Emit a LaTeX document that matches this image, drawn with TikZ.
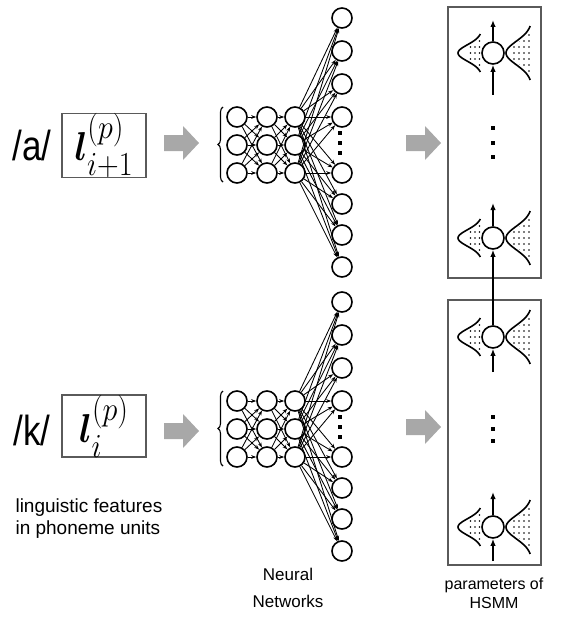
\documentclass[tikz,border=0pt]{standalone}
\usepackage{amsmath,bm}
\usepackage{fontspec}
\setmainfont{Liberation Sans}
\usetikzlibrary{arrows.meta,decorations.pathreplacing}

\definecolor{arrowgray}{HTML}{A8A8A8}
\definecolor{framegray}{HTML}{5A5A5A}

% feed-forward network: #1 name prefix, #2 vertical offset
\newcommand\nnet[2]{%
  \foreach \c/\x in {1/237,2/267,3/295} {
    \foreach \r/\y in {1/117,2/145,3/173} {
      \node[nnode] (#1c\c r\r) at (\x,\y+#2) {};
    }
  }
  \foreach \o/\y in {1/18,2/51,3/84,4/117,5/173,6/204,7/235,8/267} {
    \node[nnode] (#1o\o) at (342,\y+#2) {};
  }
  \foreach \a/\b in {1/2,2/3} {
    \foreach \i in {1,2,3} {
      \foreach \j in {1,2,3} {
        \draw[nlink] (#1c\a r\i) -- (#1c\b r\j);
      }
    }
  }
  \foreach \i in {1,2,3} {
    \foreach \o in {1,...,8} {
      \draw[nlink] (#1c3r\i) -- (#1o\o);
    }
  }
  \foreach \d in {133,143,153} {
    \fill (340,\d+#2) ++(-1.6,-1.6) rectangle ++(3.2,3.2);
  }
  \draw[decorate,decoration={brace,amplitude=5pt},line width=1.1pt]
    (223,182+#2) -- (223,107+#2);
}

% sideways Gaussian: #1 centre y, #2 peak x, #3 base x, #4 half height, #5 dot columns
\newcommand\gauss[5]{%
  \draw[gcurve] plot[domain=-#4:#4,samples=41,variable=\t]
    ({#3-(#3-#2)*exp(-(\t/(#4/2.3))^2/2)},{#1+\t});
  \begin{scope}
    \clip (#2,#1-#4) rectangle (#3-1.5,#1+#4);
    \clip plot[domain=-#4:#4,samples=41,variable=\t]
      ({#3-(#3-#2)*exp(-(\t/(#4/2.3))^2/2)+3.5},{#1+\t}) -- (#3+10,#1+#4) -- (#3+10,#1-#4) -- cycle;
    \foreach \dx in {#5} {
      \foreach \dy in {-24,-18,...,24} {
        \fill (\dx,#1+\dy) circle (0.9);
      }
    }
  \end{scope}
}

% HSMM state with its two output distributions: #1 name, #2 centre y
\newcommand\hstate[2]{%
  \node[hsnode] (#1) at (493,#2) {};
  \gauss{#2}{458}{482}{19}{470.5,475,479.5}
  \gauss{#2}{506}{532}{27}{514,519,524,529}
}

% grey block arrow: #1 left x, #2 centre y
\newcommand\blockarrow[2]{%
  \fill[arrowgray] (#1,#2-8) -- ++(19,0) -- ++(0,-9) -- ++(16,17)
    -- ++(-16,17) -- ++(0,-9) -- ++(-19,0) -- cycle;
}

\begin{document}
\begin{tikzpicture}[x=1pt,y=-1pt,
  nnode/.style={circle,draw,line width=1.6pt,minimum size=20pt,inner sep=0pt},
  nlink/.style={-{Stealth[length=5pt,width=3.6pt]},line width=0.85pt},
  hsnode/.style={circle,draw,line width=1.6pt,minimum size=22pt,inner sep=0pt},
  hsflow/.style={-{Latex[length=7pt,width=5.5pt]},line width=1.6pt},
  gcurve/.style={line width=1.6pt},
  boxframe/.style={draw=framegray,line width=1.2pt},
  captiontext/.style={font=\fontsize{17}{27}\selectfont,align=center},
  phone/.style={font=\fontsize{35}{40}\selectfont}
]
\useasboundingbox (0,0) rectangle (566,623);

% input features
\node[phone] (pa) at (32,145) {\scalebox{1}[1.2]{/a/}};
\node[phone] (pk) at (32,430) {\scalebox{1}[1.2]{/k/}};
\node[boxframe,minimum width=84pt,minimum height=63pt,inner sep=0pt] (fa) at (104,145.5)
  {\scalebox{1.45}[1.62]{\Huge $\bm{l}^{(p)}_{i+1}$}};
\node[boxframe,minimum width=84pt,minimum height=62pt,inner sep=0pt] (fk) at (104,426)
  {\scalebox{1.45}[1.62]{\Huge $\bm{l}^{(p)}_{i}$}};
\node[font=\fontsize{19}{22}\selectfont,align=left,anchor=west] (ling) at (12,519)
  {linguistic features\\in phoneme units};

\blockarrow{164}{143}
\blockarrow{164}{431}

% networks
\nnet{t}{0}
\nnet{b}{284}
\node[captiontext] (nnlab) at (288,588) {Neural\\Networks};

\blockarrow{406}{143}
\blockarrow{406}{427}

% HSMM parameters
\draw[boxframe] (448,7) rectangle (541,278);
\draw[boxframe] (448,300) rectangle (541,565);

\hstate{sa1}{53}
\hstate{sa2}{238}
\hstate{sb1}{337}
\hstate{sb2}{527}

\coordinate (sa1out) at (493,20);
\coordinate (sa1in) at (493,95);
\coordinate (sa2out) at (493,203);
\coordinate (sb1in) at (493,372);
\coordinate (sb2out) at (493,492);
\coordinate (sb2in) at (493,561);

\draw[hsflow] (sa1) -- (sa1out);
\draw[hsflow] (sa1in) -- (sa1);
\draw[hsflow] (sa2) -- (sa2out);
\draw[hsflow] (sb1) -- (sa2);
\draw[hsflow] (sb1in) -- (sb1);
\draw[hsflow] (sb2) -- (sb2out);
\draw[hsflow] (sb2in) -- (sb2);

\foreach \d in {128,143,157,417,429,441} {
  \fill (493,\d) ++(-2.2,-2.2) rectangle ++(4.4,4.4);
}

\node[font=\fontsize{16}{19}\selectfont,align=center] (hslab) at (494,593) {parameters of\\HSMM};
\end{tikzpicture}
\end{document}
